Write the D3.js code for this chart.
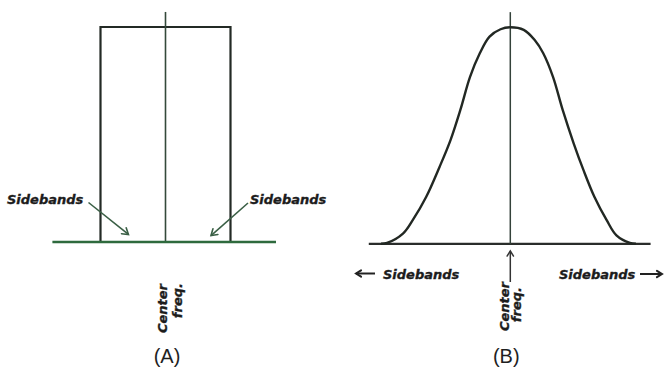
<!DOCTYPE html>
<html>
<head>
<meta charset="utf-8">
<script src="https://cdn.jsdelivr.net/npm/d3@7"></script>
<style>
  html, body { margin: 0; padding: 0; background: #fff; }
  svg { display: block; }
  .lab { font-family: "DejaVu Sans", sans-serif; font-weight: bold; font-style: italic; font-size: 13px; fill: #1c1c1c; stroke: #1c1c1c; stroke-width: 0.35px; }
  .cap { font-family: "Liberation Sans", Arial, sans-serif; font-size: 20px; fill: #1f1f1f; }
</style>
</head>
<body>
<script>
// ---------- data ----------
// Panel (A): ideal rectangular passband (normalised frequency offset, relative level)
const bandEdgesA = [-1, 1];
const bandLevelA = [1];
const baselineExtentA = [-1.74, 1.70];
const carrierA = [0];
const carrierTopA = [1.07];

// Panel (B): practical bell-shaped response
const curveOffsetB = [-1.06, -1.01, -0.88, -0.80, -0.69, -0.58, -0.49, -0.41, -0.33, -0.25, -0.17, -0.08, 0,
                      0.11, 0.20, 0.27, 0.35, 0.43, 0.52, 0.60, 0.69, 0.79, 0.87, 0.98, 1.03];
const curveLevelB  = [0, 0.004, 0.047, 0.109, 0.216, 0.355, 0.479, 0.617, 0.771, 0.880, 0.957, 0.991, 1,
                      0.988, 0.941, 0.880, 0.771, 0.617, 0.463, 0.340, 0.216, 0.109, 0.039, 0.004, 0];
const baselineExtentB = [-1.16, 1.15];
const carrierB = [0];
const carrierTopB = [1.07];

// text
const sidebandLabel = "Sidebands";
const centerLabel = ["Center", "freq."];
const panelLabels = ["(A)", "(B)"];

// ---------- drawing ----------
const W = 665, H = 368;
const svg = d3.select("body").append("svg").attr("width", W).attr("height", H);
svg.append("rect").attr("width", W).attr("height", H).attr("fill", "#fff");

// scales
const xA = d3.scaleLinear().domain([-1, 1]).range([100.5, 230.5]);
const yA = d3.scaleLinear().domain([0, 1]).range([242, 27]);
const xB = d3.scaleLinear().domain([-1, 1]).range([388.3, 632.3]);
const yB = d3.scaleLinear().domain([0, 1]).range([243.8, 27.3]);

const gA = svg.append("g");
const gB = svg.append("g");

// ---- Panel A ----
const rectPts = [[bandEdgesA[0], 0], [bandEdgesA[0], bandLevelA[0]], [bandEdgesA[1], bandLevelA[0]], [bandEdgesA[1], 0]];
gA.append("path")
  .attr("d", d3.line().x(d => xA(d[0])).y(d => yA(d[1]))(rectPts))
  .attr("fill", "none").attr("stroke", "#232a25").attr("stroke-width", 2.2)
  .attr("stroke-linejoin", "miter");
gA.selectAll("line.carrier").data(carrierA).join("line")
  .attr("x1", d => xA(d)).attr("x2", d => xA(d))
  .attr("y1", yA(0)).attr("y2", yA(carrierTopA[0]))
  .attr("stroke", "#34493a").attr("stroke-width", 1.6);
gA.append("line")
  .attr("x1", xA(baselineExtentA[0])).attr("x2", xA(baselineExtentA[1]))
  .attr("y1", yA(0)).attr("y2", yA(0))
  .attr("stroke", "#2e6a3d").attr("stroke-width", 2.6);

function arrowHead(g, x, y, angle, size, color, w) {
  const a1 = angle + Math.PI * 0.82, a2 = angle - Math.PI * 0.82;
  g.append("path")
    .attr("d", `M${x + size * Math.cos(a1)},${y + size * Math.sin(a1)}L${x},${y}L${x + size * Math.cos(a2)},${y + size * Math.sin(a2)}`)
    .attr("fill", "none").attr("stroke", color).attr("stroke-width", w)
    .attr("stroke-linecap", "round").attr("stroke-linejoin", "miter");
}
function arrow(g, x1, y1, x2, y2, color, w, size) {
  g.append("line").attr("x1", x1).attr("y1", y1).attr("x2", x2).attr("y2", y2)
    .attr("stroke", color).attr("stroke-width", w);
  arrowHead(g, x2, y2, Math.atan2(y2 - y1, x2 - x1), size, color, w);
}

gA.append("text").attr("class", "lab").attr("x", 7).attr("y", 203.5).text(sidebandLabel);
gA.append("text").attr("class", "lab").attr("x", 250).attr("y", 203.5).text(sidebandLabel);
arrow(gA, 88.5, 202.5, xA(-0.57), yA(0.035), "#3a5f45", 1.6, 7);
arrow(gA, 248, 203, xA(0.70), yA(0.03), "#3a5f45", 1.6, 7);

gA.append("text").attr("class", "lab").attr("text-anchor", "end")
  .attr("transform", `translate(${xA(0) + 1.2},284) rotate(-90)`).text(centerLabel[0]);
gA.append("text").attr("class", "lab").attr("text-anchor", "end")
  .attr("transform", `translate(${xA(0) + 16},283) rotate(-90)`).text(centerLabel[1]);
gA.append("text").attr("class", "cap").attr("text-anchor", "middle")
  .attr("x", xA(0) + 1.5).attr("y", 363).text(panelLabels[0]);

// ---- Panel B ----
gB.append("line")
  .attr("x1", xB(baselineExtentB[0])).attr("x2", xB(baselineExtentB[1]))
  .attr("y1", yB(0)).attr("y2", yB(0))
  .attr("stroke", "#2a2d2b").attr("stroke-width", 2.2);
gB.selectAll("line.carrier").data(carrierB).join("line")
  .attr("x1", d => xB(d)).attr("x2", d => xB(d))
  .attr("y1", yB(0)).attr("y2", yB(carrierTopB[0]))
  .attr("stroke", "#34423a").attr("stroke-width", 1.5);
const curvePts = curveOffsetB.map((o, i) => [o, curveLevelB[i]]);
gB.append("path")
  .attr("d", d3.line().x(d => xB(d[0])).y(d => yB(d[1])).curve(d3.curveCatmullRom.alpha(0.5))(curvePts))
  .attr("fill", "none").attr("stroke", "#222823").attr("stroke-width", 2.4);

arrow(gB, xB(0), 282, xB(0), 251, "#333", 1.5, 6);

gB.append("text").attr("class", "lab").attr("x", 383).attr("y", 279).text(sidebandLabel);
gB.append("text").attr("class", "lab").attr("x", 559).attr("y", 279).text(sidebandLabel);
arrow(gB, 375, 273.5, 356, 273.5, "#222", 2, 6);
arrow(gB, 640, 274, 662, 274, "#222", 2, 6);

gB.append("text").attr("class", "lab").attr("text-anchor", "end")
  .attr("transform", `translate(${xB(0) - 1.5},282) rotate(-90)`).text(centerLabel[0]);
gB.append("text").attr("class", "lab").attr("text-anchor", "end")
  .attr("transform", `translate(${xB(0) + 10.5},287) rotate(-90)`).text(centerLabel[1]);
gB.append("text").attr("class", "cap").attr("text-anchor", "middle")
  .attr("x", xB(0) - 4).attr("y", 363).text(panelLabels[1]);
</script>
</body>
</html>
